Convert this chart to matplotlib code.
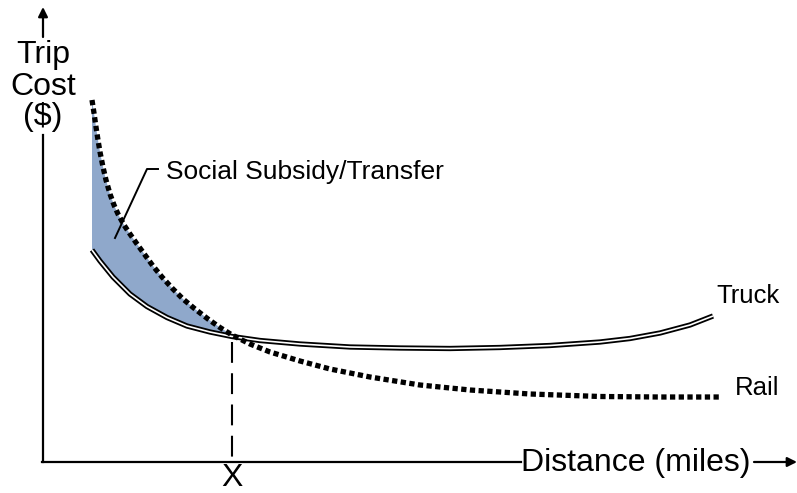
import matplotlib
matplotlib.use("Agg")
import matplotlib.pyplot as plt
import numpy as np

plt.rcParams['font.family'] = ['Liberation Sans', 'DejaVu Sans']

rail_distance = [92, 94, 96, 98, 100, 103, 106, 110, 114, 118, 124, 130, 137, 145, 153, 162, 172,
                 183, 195, 208, 220, 232, 250, 270, 300, 330, 370, 420, 470, 530, 600, 660, 720]
rail_cost = [100, 113, 127, 140, 152, 167, 180, 194, 205, 214, 225, 234, 244, 255, 266, 277, 288,
             299, 309, 319, 327.5, 335, 344, 352, 361, 369, 377, 385, 390, 394, 396.5, 397, 397]

truck_distance = [92, 100, 113, 130, 147, 167, 187, 210, 232, 260, 300, 350, 400, 450,
                  500, 550, 600, 630, 660, 690, 713]
truck_cost = [250, 261, 277, 294, 306.5, 317.5, 326, 332, 336.5, 340.5, 344, 347, 348, 348.5,
              347.5, 345.5, 342, 338.5, 333, 325, 316]

crossing_distance = 232
crossing_cost = 336

labels = {"y": ["Trip", "Cost", "($)"], "x": "Distance (miles)", "cross": "X",
          "truck": "Truck", "rail": "Rail", "note": "Social Subsidy/Transfer"}

fig = plt.figure(figsize=(7.97, 4.93), dpi=100)
ax = fig.add_axes([0, 0, 1, 1])
ax.set_xlim(0, 797)
ax.set_ylim(493, 0)
ax.axis('off')

# shaded subsidy region between rail (above) and truck (below) up to crossing
rd = np.array(rail_distance); rc = np.array(rail_cost)
td = np.array(truck_distance); tc = np.array(truck_cost)
mr = rd <= crossing_distance
mt = td <= crossing_distance
poly_x = np.concatenate([rd[mr], td[mt][::-1]])
poly_y = np.concatenate([rc[mr], tc[mt][::-1]])
ax.fill(poly_x, poly_y, color='#8fa8cb', lw=0, zorder=1)

# truck: double line
ax.plot(truck_distance, truck_cost, color='black', lw=3.8, solid_capstyle='butt',
        solid_joinstyle='round', zorder=3)
ax.plot(truck_distance, truck_cost, color='white', lw=1.2, solid_capstyle='butt',
        solid_joinstyle='round', zorder=4)

# rail: heavy dotted line
ax.plot(rail_distance, rail_cost, color='black', lw=3.8, linestyle=(0, (1.0, 0.65)),
        dash_capstyle='butt', zorder=5)

# axes
ax.plot([43, 43], [462, 135], color='black', lw=1.6, zorder=6)
ax.annotate('', xy=(43, 7), xytext=(43, 37),
            arrowprops=dict(arrowstyle='-|>', lw=1.6, color='black', mutation_scale=14,
                            shrinkA=0, shrinkB=0))
ax.plot([42, 521], [462, 462], color='black', lw=1.6, zorder=6)
ax.annotate('', xy=(797, 462), xytext=(754, 462),
            arrowprops=dict(arrowstyle='-|>', lw=1.6, color='black', mutation_scale=14,
                            shrinkA=0, shrinkB=0))

# vertical dashed line at X
ax.plot([crossing_distance, crossing_distance], [crossing_cost + 6, 462], color='black', lw=1.5,
        linestyle=(0, (10, 5)), zorder=2)

# texts
for s, yb in zip(labels["y"], [63, 95, 125]):
    ax.text(43, yb, s, ha='center', va='baseline', fontsize=23)
ax.text(521, 471, labels["x"], ha='left', va='baseline', fontsize=23)
ax.text(232, 493, labels["cross"], ha='center', va='bottom', fontsize=23)
ax.text(716, 303, labels["truck"], ha='left', va='baseline', fontsize=18.5)
ax.text(735, 395, labels["rail"], ha='left', va='baseline', fontsize=18.5)
ax.text(166, 179, labels["note"], ha='left', va='baseline', fontsize=19)

# leader line for note
ax.plot([115, 147, 158], [238, 169, 169], color='black', lw=1.4, zorder=7)

fig.savefig('out.png', dpi=100)
